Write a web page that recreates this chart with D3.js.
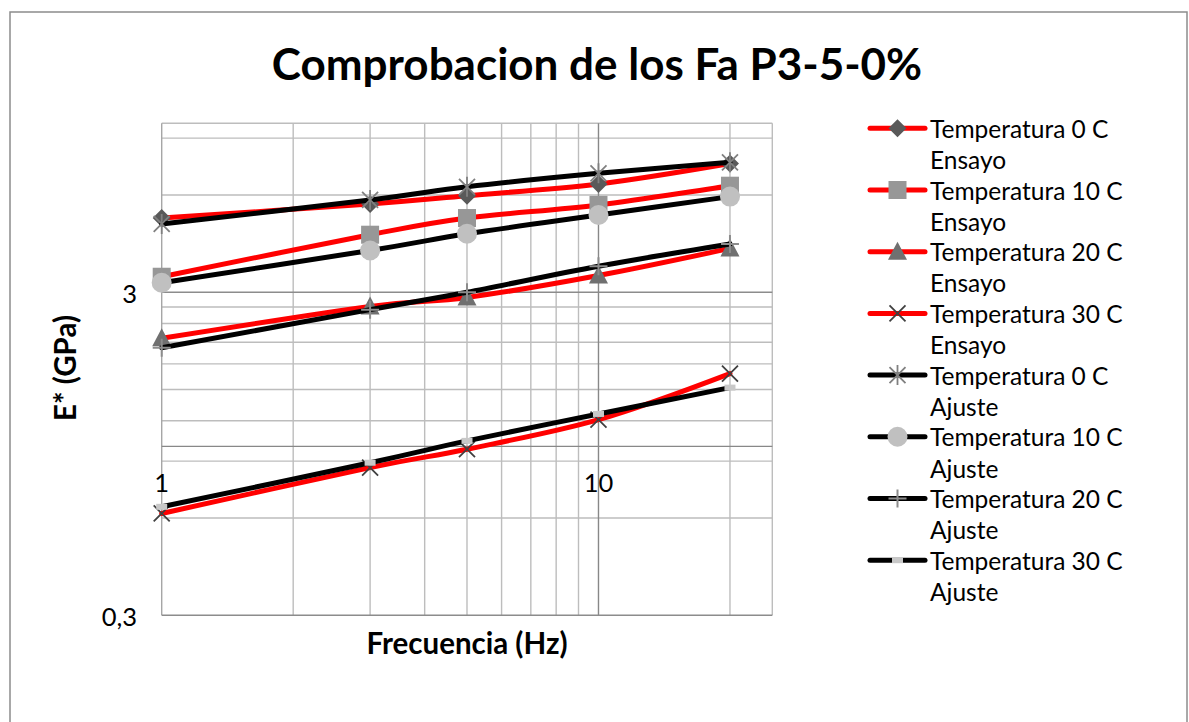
<!DOCTYPE html>
<html><head><meta charset="utf-8">
<script src="https://cdn.jsdelivr.net/npm/d3@7"></script>
<style>
body{margin:0;background:#fff}
svg{display:block}
text{font-family:Lato,"Open Sans",sans-serif;fill:#000}
</style>
</head><body>
<svg id="chart" width="1189" height="722"></svg>
<script>
// ---------- data ----------
const frequencies = [1, 3, 5, 10, 20];
const ensayo0  = [5.09, 5.63, 5.97, 6.49, 7.51];
const ensayo10 = [3.35, 4.52, 5.09, 5.59, 6.41];
const ensayo20 = [2.16, 2.71, 2.89, 3.38, 4.10];
const ensayo30 = [0.62, 0.86, 0.98, 1.21, 1.68];
const ajuste0  = [4.88, 5.79, 6.36, 7.00, 7.57];
const ajuste10 = [3.21, 4.04, 4.55, 5.20, 5.93];
const ajuste20 = [2.02, 2.65, 3.00, 3.61, 4.23];
const ajuste30 = [0.65, 0.89, 1.04, 1.26, 1.52];
const seriesLabels = [
  ["Temperatura 0 C", "Ensayo"], ["Temperatura 10 C", "Ensayo"],
  ["Temperatura 20 C", "Ensayo"], ["Temperatura 30 C", "Ensayo"],
  ["Temperatura 0 C", "Ajuste"], ["Temperatura 10 C", "Ajuste"],
  ["Temperatura 20 C", "Ajuste"], ["Temperatura 30 C", "Ajuste"]
];
const xTickValues = [1, 10];
const xTickLabels = ["1", "10"];
const yTickValues = [0.3, 3];
const yTickLabels = ["0,3", "3"];
const xMinorGrid = [2, 3, 4, 5, 6, 7, 8, 9, 20];
const yMinorGrid = [0.6, 0.9, 1.2, 1.5, 1.8, 2.1, 2.4, 2.7, 6, 9];
const xDomain = [1, 25];
const yDomain = [0.3, 10];
const titleText = "Comprobacion de los Fa P3-5-0%";
const xTitle = "Frecuencia (Hz)";
const yTitle = "E* (GPa)";

// ---------- layout / style ----------
const svg = d3.select("#chart");
const P = {left: 161.7, right: 772.3, top: 123.3, bottom: 615.3};
const x = d3.scaleLog().domain(xDomain).range([P.left, P.right]);
const y = d3.scaleLog().domain(yDomain).range([P.bottom, P.top]);

const seriesValues = [ensayo0, ensayo10, ensayo20, ensayo30, ajuste0, ajuste10, ajuste20, ajuste30];
const lineColors = ["#ff0000","#ff0000","#ff0000","#ff0000","#000000","#000000","#000000","#000000"];
const markerTypes = ["diamond","square","triangle","x","star","circle","plus","dash"];

function drawMarker(g, type) {
  switch (type) {
    case "diamond": g.append("path").attr("d","M0,-9L9,0L0,9L-9,0Z").attr("fill","#595959"); break;
    case "square": g.append("rect").attr("x",-9).attr("y",-9).attr("width",18).attr("height",18).attr("fill","#979797"); break;
    case "triangle": g.append("path").attr("d","M0,-10L9.5,8L-9.5,8Z").attr("fill","#707070"); break;
    case "x": g.append("path").attr("d","M-8,-8L8,8M-8,8L8,-8").attr("stroke","#404040").attr("stroke-width",1.8).attr("fill","none"); break;
    case "star": g.append("path").attr("d","M-8,-8L8,8M-8,8L8,-8M0,-10L0,10").attr("stroke","#808080").attr("stroke-width",1.8).attr("fill","none"); break;
    case "circle": g.append("circle").attr("r",10).attr("fill","#c0c0c0"); break;
    case "plus": g.append("path").attr("d","M-9,0L9,0M0,-9L0,9").attr("stroke","#8c8c8c").attr("stroke-width",2).attr("fill","none"); break;
    case "dash": g.append("rect").attr("x",-5.5).attr("y",-3).attr("width",11).attr("height",6).attr("fill","#c8c8c8"); break;
  }
}

// frame
svg.append("rect").attr("x",10).attr("y",12).attr("width",1177).attr("height",720)
  .attr("fill","#fff").attr("stroke","#8c8c8c").attr("stroke-width",1.5);

// grid
const grid = svg.append("g");
grid.selectAll(".xm").data(xMinorGrid).enter().append("line")
  .attr("x1",d=>x(d)).attr("x2",d=>x(d)).attr("y1",P.top).attr("y2",P.bottom)
  .attr("stroke","#bdbdbd").attr("stroke-width",1.4);
grid.selectAll(".ym").data(yMinorGrid).enter().append("line")
  .attr("y1",d=>y(d)).attr("y2",d=>y(d)).attr("x1",P.left).attr("x2",P.right)
  .attr("stroke","#bdbdbd").attr("stroke-width",1.4);
grid.append("line").attr("x1",P.left).attr("x2",P.right).attr("y1",P.top).attr("y2",P.top).attr("stroke","#bdbdbd").attr("stroke-width",1.4);
grid.append("line").attr("x1",P.right).attr("x2",P.right).attr("y1",P.top).attr("y2",P.bottom).attr("stroke","#bdbdbd").attr("stroke-width",1.4);
grid.selectAll(".xM").data(xTickValues).enter().append("line")
  .attr("x1",d=>x(d)).attr("x2",d=>x(d)).attr("y1",P.top).attr("y2",P.bottom)
  .attr("stroke",(d,i)=>i===0?"#a6a6a6":"#888888").attr("stroke-width",1.4);
grid.selectAll(".yM").data(yTickValues).enter().append("line")
  .attr("y1",d=>y(d)).attr("y2",d=>y(d)).attr("x1",P.left).attr("x2",P.right)
  .attr("stroke","#8c8c8c").attr("stroke-width",1.4);
grid.append("line").attr("x1",P.left).attr("x2",P.right).attr("y1",y(1)).attr("y2",y(1))
  .attr("stroke","#888888").attr("stroke-width",1.4);

// tick labels
svg.selectAll(".xl").data(xTickValues).enter().append("text")
  .attr("x",d=>x(d)).attr("y",y(1)+36).attr("text-anchor","middle").attr("dominant-baseline","central")
  .attr("font-size",25.5).text((d,i)=>xTickLabels[i]);
svg.selectAll(".yl").data(yTickValues).enter().append("text")
  .attr("x",137).attr("y",d=>y(d)+1).attr("text-anchor","end").attr("dominant-baseline","central")
  .attr("font-size",25.5).text((d,i)=>yTickLabels[i]);

// series
const line = d3.line().x((d,i)=>x(frequencies[i])).y(d=>y(d)).curve(d3.curveCatmullRom.alpha(0));
seriesValues.forEach((vals, s) => {
  const g = svg.append("g");
  g.append("path").attr("d", line(vals)).attr("fill","none")
    .attr("stroke", lineColors[s]).attr("stroke-width",5).attr("stroke-linejoin","round").attr("stroke-linecap","round");
  vals.forEach((v,i) => {
    const m = g.append("g").attr("transform",`translate(${x(frequencies[i])},${y(v)})`);
    drawMarker(m, markerTypes[s]);
  });
});

// titles
svg.append("text").attr("x",597).attr("y",80).attr("text-anchor","middle")
  .attr("font-size",44).attr("font-weight","bold").text(titleText);
svg.append("text").attr("x",467).attr("y",642).attr("text-anchor","middle").attr("dominant-baseline","central")
  .attr("font-size",29.5).attr("font-weight","bold").text(xTitle);
svg.append("text").attr("transform","translate(64,368) rotate(-90)").attr("text-anchor","middle").attr("dominant-baseline","central")
  .attr("font-size",29.5).attr("font-weight","bold").text(yTitle);

// legend
const L = svg.append("g");
seriesLabels.forEach((lab, s) => {
  const cy = 128.3 + 61.7*s;
  const g = L.append("g");
  g.append("line").attr("x1",870).attr("x2",925).attr("y1",cy).attr("y2",cy)
    .attr("stroke",lineColors[s]).attr("stroke-width",5).attr("stroke-linecap","round");
  drawMarker(g.append("g").attr("transform",`translate(897.5,${cy})`), markerTypes[s]);
  lab.forEach((t,k) => {
    g.append("text").attr("x",930).attr("y",cy + k*31.2).attr("dominant-baseline","central")
      .attr("font-size",24.5).text(t);
  });
});
</script>
</body></html>
